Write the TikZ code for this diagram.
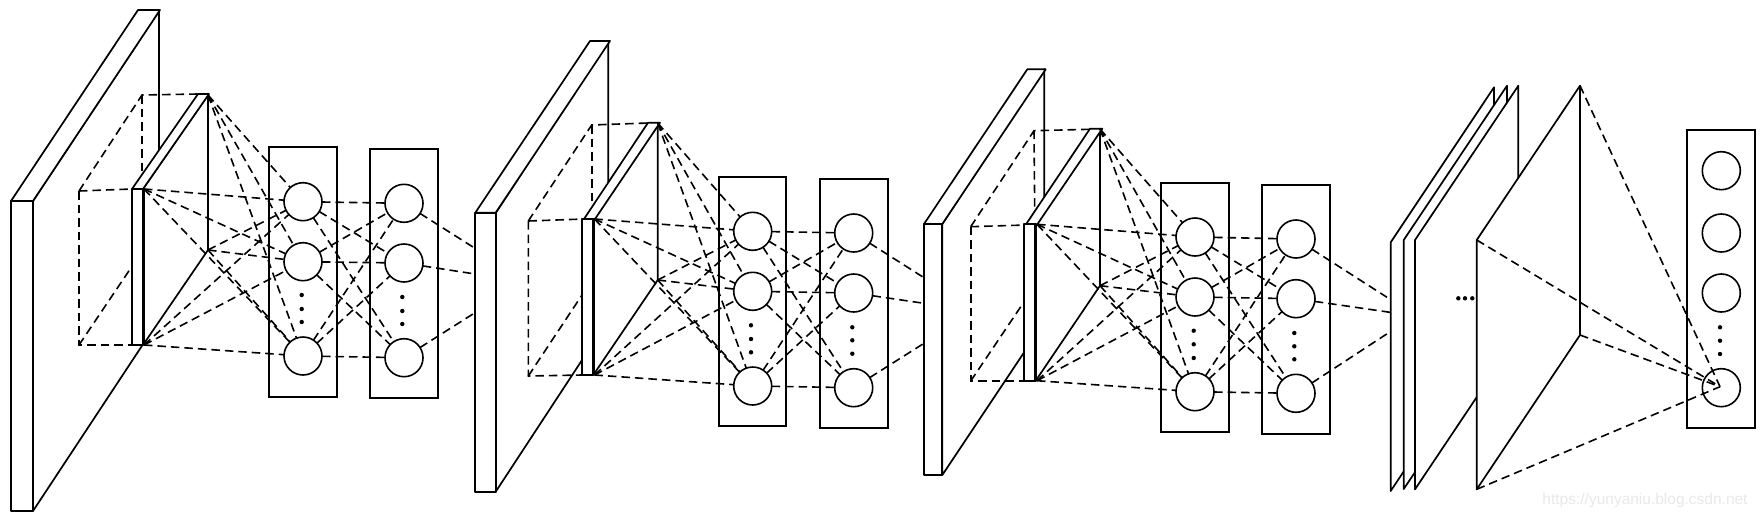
\documentclass[tikz,border=0pt]{standalone}
\usepackage{fontspec}
\setmainfont{Liberation Sans}
\tikzset{
  plate/.style={draw=black,fill=white,line width=1.7pt,line join=round},
  thickedge/.style={draw=black,line width=3pt},
  wire/.style={draw=black,line width=1.6pt,dash pattern=on 8.5pt off 5pt},
  neuron/.style={circle,draw=black,fill=white,line width=1.6pt,minimum size=38pt,inner sep=0pt,outer sep=0pt},
  layerbox/.style={rectangle,draw=black,line width=1.7pt,inner sep=0pt,outer sep=0pt},
  vdot/.style={circle,fill=black,minimum size=4.4pt,inner sep=0pt,outer sep=0pt},
  watermark/.style={text=black!9,font=\fontsize{15.5}{18}\selectfont,inner sep=0pt}
}
% connectors of one block: four plate corners to three neurons, three neurons to three neurons, three neurons to next plate
\newcommand{\wireblock}[1]{%
  \foreach \c in {a,b,c,d}{\foreach \n in {1,2,3}{\draw[wire] (#1\c) -- (#1n\n);}}
  \foreach \n in {1,2,3}{\foreach \m in {1,2,3}{\draw[wire] (#1n\n) -- (#1m\m);}}
  \foreach \m in {1,2,3}{\draw[wire] (#1m\m) -- (#1x\m);}
}
\begin{document}
\begin{tikzpicture}[x=1pt,y=-1pt]
\useasboundingbox (0,0) rectangle (1760,517);

% ---------- block 1 ----------
\path[plate] (33,201) -- (159,11) -- (159,320) -- (33,511) -- cycle;
\path[plate] (11,201) -- (138,10) -- (160,10) -- (33,201) -- cycle;
\path[plate] (11,201) rectangle (33,511);
\coordinate (Ap) at (79,191); \coordinate (Aq) at (142,95); \coordinate (Ar) at (79,345);
\draw[wire] (Ap) -- (Aq) -- (198,94);
\draw[wire] (Ap) -- (132,189);
\draw[wire] (Ap) -- (Ar) -- (132,345);
\draw[wire] (Ar) -- (143,250);
\draw[wire] (Aq) -- (142,190);
\path[plate] (143,189) -- (208,95) -- (208,250) -- (143,345) -- cycle;
\path[plate] (132,189) -- (198,94) -- (209,94) -- (143,189) -- cycle;
\path[plate] (132,189) rectangle (143,345);
\draw[thickedge] (143,189) -- (143,345);
\coordinate (Aa) at (144,189); \coordinate (Ab) at (208,95);
\coordinate (Ac) at (208,250); \coordinate (Ad) at (144,345);
\node[layerbox,minimum width=68pt,minimum height=250pt] (Abox1) at (303,272) {};
\node[layerbox,minimum width=68pt,minimum height=249pt] (Abox2) at (404,273.5) {};
\node[neuron] (An1) at (303,201.7) {};
\node[neuron] (An2) at (303,261.7) {};
\node[neuron] (An3) at (303,356) {};
\node[neuron] (Am1) at (404,203.3) {};
\node[neuron] (Am2) at (404,263) {};
\node[neuron] (Am3) at (404,357.7) {};
\coordinate (Ax1) at (475,248.3); \coordinate (Ax2) at (475,274); \coordinate (Ax3) at (475,312.7);
\wireblock{A}
\node[vdot] (Adot1) at (301.7,295) {};
\node[vdot] (Adot2) at (301.7,309) {};
\node[vdot] (Adot3) at (301.7,322) {};
\node[vdot] (Adot4) at (402.3,297) {};
\node[vdot] (Adot5) at (402.3,311) {};
\node[vdot] (Adot6) at (402.3,324) {};

% ---------- block 2 ----------
\path[plate] (495.7,213) -- (608.3,41) -- (608.3,320) -- (495.7,491.7) -- cycle;
\path[plate] (475.3,212.7) -- (590,41) -- (610,41) -- (495.7,212.7) -- cycle;
\path[plate] (475.3,212.7) rectangle (495.7,491.7);
\coordinate (Bp) at (528.3,221); \coordinate (Bq) at (591.7,125); \coordinate (Br) at (528.3,376);
\draw[wire] (Bp) -- (Bq) -- (648,123);
\draw[wire] (Bp) -- (584,219);
\draw[wire] (Bp) -- (Br) -- (582,375);
\draw[wire] (Br) -- (590,283);
\draw[wire] (Bq) -- (591.7,205);
\path[plate] (593.3,219) -- (657.7,123) -- (657.7,280) -- (593.3,375) -- cycle;
\path[plate] (584,219) -- (648,122.7) -- (660,122.7) -- (595,219) -- cycle;
\path[plate] (581.7,219) rectangle (593.3,375);
\draw[thickedge] (593.3,219) -- (593.3,375);
\coordinate (Ba) at (594.5,219); \coordinate (Bb) at (657.7,123);
\coordinate (Bc) at (657.7,280); \coordinate (Bd) at (594.5,375);
\node[layerbox,minimum width=67.6pt,minimum height=249.6pt] (Bbox1) at (752.5,301.5) {};
\node[layerbox,minimum width=67.7pt,minimum height=249.3pt] (Bbox2) at (853.85,303.35) {};
\node[neuron] (Bn1) at (752.7,231.3) {};
\node[neuron] (Bn2) at (752.7,291.3) {};
\node[neuron] (Bn3) at (752.7,386) {};
\node[neuron] (Bm1) at (853.7,233) {};
\node[neuron] (Bm2) at (853.7,293) {};
\node[neuron] (Bm3) at (853.7,387.7) {};
\coordinate (Bx1) at (924,277.7); \coordinate (Bx2) at (924,303.3); \coordinate (Bx3) at (924,343.3);
\wireblock{B}
\node[vdot] (Bdot1) at (751,325.3) {};
\node[vdot] (Bdot2) at (751,339) {};
\node[vdot] (Bdot3) at (751,352.3) {};
\node[vdot] (Bdot4) at (852.3,327.3) {};
\node[vdot] (Bdot5) at (852.3,340.3) {};
\node[vdot] (Bdot6) at (852.3,353.7) {};

% ---------- block 3 ----------
\path[plate] (942.3,224) -- (1044.3,69.3) -- (1044.3,322) -- (942.3,475) -- cycle;
\path[plate] (924,224) -- (1027.3,69.3) -- (1045.7,69.3) -- (942.3,224) -- cycle;
\path[plate] (924,224) rectangle (942.3,475);
\coordinate (Cp) at (970.7,226.7); \coordinate (Cq) at (1034,130.7); \coordinate (Cr) at (970.7,381);
\draw[wire] (Cp) -- (Cq) -- (1090,129.3);
\draw[wire] (Cp) -- (1026,225);
\draw[wire] (Cp) -- (Cr) -- (1024,381);
\draw[wire] (Cr) -- (1032,290);
\draw[wire] (Cq) -- (1034.7,210);
\path[plate] (1035.7,224.3) -- (1100,128.7) -- (1100,285.7) -- (1035.7,380.7) -- cycle;
\path[plate] (1026,224.3) -- (1090,128.7) -- (1102.3,128.7) -- (1037.3,224.3) -- cycle;
\path[plate] (1023.7,224.3) rectangle (1035.7,380.7);
\draw[thickedge] (1035.7,224.3) -- (1035.7,380.7);
\coordinate (Ca) at (1037,224.3); \coordinate (Cb) at (1100,129);
\coordinate (Cc) at (1100,285.7); \coordinate (Cd) at (1037,380.7);
\node[layerbox,minimum width=67.7pt,minimum height=249.3pt] (Cbox1) at (1194.85,307.35) {};
\node[layerbox,minimum width=67.7pt,minimum height=249pt] (Cbox2) at (1296.15,309.2) {};
\node[neuron] (Cn1) at (1195,237) {};
\node[neuron] (Cn2) at (1195,297) {};
\node[neuron] (Cn3) at (1195,391.7) {};
\node[neuron] (Cm1) at (1296,239) {};
\node[neuron] (Cm2) at (1296,298.7) {};
\node[neuron] (Cm3) at (1296,393.3) {};
\coordinate (Cx1) at (1387,297.3); \coordinate (Cx2) at (1390,312.3); \coordinate (Cx3) at (1389.3,332.3);
\wireblock{C}
\node[vdot] (Cdot1) at (1193.7,330.7) {};
\node[vdot] (Cdot2) at (1193.7,344.3) {};
\node[vdot] (Cdot3) at (1193.7,358) {};
\node[vdot] (Cdot4) at (1294.3,333) {};
\node[vdot] (Cdot5) at (1294.3,346.3) {};
\node[vdot] (Cdot6) at (1294.3,359.3) {};

% ---------- block 4 ----------
\path[plate] (1390.7,242.3) -- (1494,87.3) -- (1494,336) -- (1390.7,491) -- cycle;
\path[plate] (1403.7,240) -- (1507,85.7) -- (1507,335) -- (1403.7,489) -- cycle;
\path[plate] (1415,240) -- (1518.3,85.7) -- (1518.3,335) -- (1415,489.3) -- cycle;
\path[plate] (1476.7,240) -- (1580,85.7) -- (1580,335) -- (1476.7,489.3) -- cycle;
\coordinate (Dtop) at (1580,85.7); \coordinate (Dleft) at (1476.7,240);
\coordinate (Dright) at (1580,335); \coordinate (Dbot) at (1476.7,489.3);
\node[vdot] (Ddot1) at (1458.3,298.3) {};
\node[vdot] (Ddot2) at (1465,298.3) {};
\node[vdot] (Ddot3) at (1472.3,298.3) {};
\node[layerbox,minimum width=68pt,minimum height=298.3pt] (Dbox) at (1721.3,279.15) {};
\node[neuron] (Dn1) at (1721.3,170.7) {};
\node[neuron] (Dn2) at (1721.3,233) {};
\node[neuron] (Dn3) at (1721.3,293) {};
\node[neuron] (Dn4) at (1721.3,387.7) {};
\node[vdot] (Ddot4) at (1720,327.3) {};
\node[vdot] (Ddot5) at (1720,340.7) {};
\node[vdot] (Ddot6) at (1720,354) {};
\coordinate (Dt) at (1720,386.7);
\draw[wire] (Dtop) -- (Dt);
\draw[wire] (Dleft) -- (Dt);
\draw[wire] (Dright) -- (Dt);
\draw[wire] (Dbot) -- (Dt);

\node[watermark] (mark) at (1645,500) {https://yunyaniu.blog.csdn.net};
\end{tikzpicture}
\end{document}
